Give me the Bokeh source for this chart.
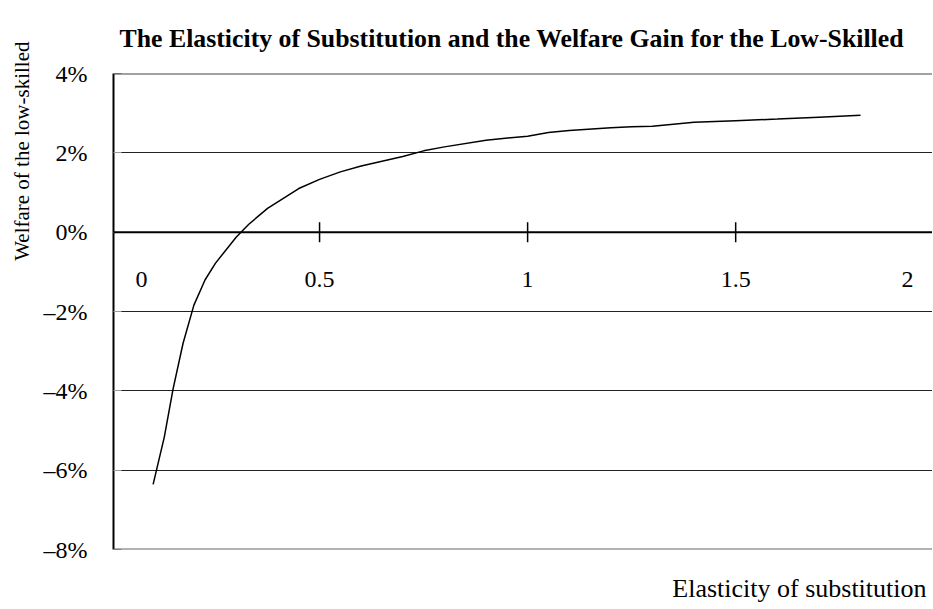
import numpy as np
from bokeh.plotting import figure
from bokeh.models import FixedTicker, CustomJSTickFormatter, Title, Range1d, Span
from bokeh.core.properties import value
from bokeh.embed import file_html
from bokeh.resources import INLINE

# ---- data ----
elasticity = [0.10, 0.127, 0.148, 0.172, 0.198, 0.225, 0.25, 0.30, 0.33, 0.375,
              0.45, 0.50, 0.55, 0.60, 0.70, 0.75, 0.80, 0.90, 1.00, 1.05,
              1.10, 1.20, 1.25, 1.30, 1.40, 1.50, 1.60, 1.70, 1.80]
welfare_pct = [-6.36, -5.16, -3.95, -2.80, -1.84, -1.20, -0.78, -0.12, 0.20, 0.60,
               1.10, 1.33, 1.52, 1.67, 1.91, 2.05, 2.15, 2.32, 2.42, 2.51,
               2.56, 2.63, 2.66, 2.67, 2.77, 2.81, 2.85, 2.90, 2.95]
x_ticks = [0, 0.5, 1, 1.5, 2]
x_tick_labels = ["0", "0.5", "1", "1.5", "2"]
y_ticks = [-8, -6, -4, -2, 0, 2, 4]

TITLE = "The Elasticity of Substitution and the Welfare Gain for the Low-Skilled"
Y_LABEL = "Welfare of the low-skilled"
X_LABEL = "Elasticity of substitution"
FONT = "Liberation Serif"

p = figure(frame_width=819, frame_height=476,
           min_border_left=110, min_border_right=0, min_border_top=73, min_border_bottom=58,
           x_range=Range1d(0.0048, 1.973), y_range=Range1d(-8, 4),
           output_backend="svg", toolbar_location=None)

p.outline_line_color = None
p.background_fill_color = "white"
p.border_fill_color = "white"

p.xaxis.visible = False
p.xgrid.visible = False

p.ygrid.ticker = FixedTicker(ticks=y_ticks)
p.ygrid.grid_line_color = "#222222"
p.ygrid.grid_line_width = 1

yax = p.yaxis[0]
yax.ticker = FixedTicker(ticks=y_ticks)
yax.formatter = CustomJSTickFormatter(
    code="return (tick < 0 ? '\\u2013' + Math.abs(tick) : String(tick)) + '%';")
yax.axis_line_color = "black"
yax.axis_line_width = 2
yax.major_tick_in = 8
yax.major_tick_out = 0
yax.major_tick_line_color = "#999999"
yax.minor_tick_line_color = None
yax.major_label_standoff = 26
yax.major_label_text_font = FONT
yax.major_label_text_font_size = "24px"
yax.major_label_text_color = "black"

# frame top / bottom borders
p.add_layout(Span(location=4, dimension="width", line_color="#444444", line_width=2))
p.add_layout(Span(location=-8, dimension="width", line_color="#666666", line_width=2))
# x axis through zero
p.add_layout(Span(location=0, dimension="width", line_color="black", line_width=2))

# tick marks crossing the zero line
tick_pos = [t for t in x_ticks if 0 < t < 2]
p.scatter(x=tick_pos, y=[0] * len(tick_pos), marker="dash", angle=np.pi / 2,
          size=20, line_color="black", line_width=1.5)

# x tick labels (end labels pulled inward as in the reference)
label_x = list(np.clip(x_ticks, 0.072, 1.913))
p.text(x=label_x, y=[-1.2] * len(x_ticks), text=x_tick_labels,
       text_align="center", text_baseline="middle",
       text_font=value(FONT), text_font_size="24px", text_color="black")

# the curve
p.line(elasticity, welfare_pct, line_color="black", line_width=1.5)

# titles
p.add_layout(Title(text=TITLE, align="left", text_font=FONT, text_font_style="bold",
                   text_font_size="25.8px", text_color="black", standoff=42, offset=6), "above")
p.add_layout(Title(text=Y_LABEL, align="right", text_font=FONT, text_font_style="normal",
                   text_font_size="21px", text_color="black", standoff=14, offset=-32), "left")
p.add_layout(Title(text=X_LABEL, align="right", text_font=FONT, text_font_style="normal",
                   text_font_size="26px", text_color="black", standoff=44, offset=6), "below")

open("out.html", "w").write(file_html(p, INLINE))
